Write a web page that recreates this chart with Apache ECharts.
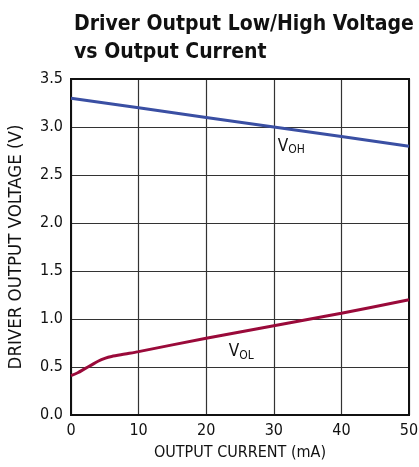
<!DOCTYPE html>
<html><head><meta charset="utf-8">
<script src="https://cdn.jsdelivr.net/npm/echarts@6/dist/echarts.min.js"></script>
<style>html,body{margin:0;padding:0;background:#fff}#c{width:419px;height:467px}</style>
</head><body><div id="c"></div>
<script>
var titleText = 'Driver Output Low/High Voltage\nvs Output Current';
var xName = 'OUTPUT CURRENT (mA)';
var yName = 'DRIVER OUTPUT VOLTAGE (V)';
var vohData = [[0, 3.30], [10, 3.20], [20, 3.10], [30, 3.00], [40, 2.90], [50, 2.80]];
var volData = [[0, 0.41], [1, 0.44], [2, 0.48], [3, 0.52], [4, 0.56], [5, 0.59], [6, 0.61], [8, 0.635], [10, 0.66], [20, 0.80], [30, 0.93], [40, 1.06], [50, 1.20]];
var FONT = '"Liberation Sans Narrow", "DejaVu Sans Condensed", "Roboto", sans-serif';
var chart = echarts.init(document.getElementById('c'));
chart.setOption({
  animation: false,
  title: {text: titleText, left: 69, top: 6, textStyle: {fontFamily: FONT, fontWeight: 'bold', fontSize: 21, lineHeight: 28, color: '#111'}},
  grid: {left: 71, right: 10, top: 79, bottom: 52, containLabel: false, outerBoundsMode: 'none'},
  xAxis: {type: 'value', min: 0, max: 50, interval: 10, name: xName, nameLocation: 'middle', nameGap: 30,
    nameTextStyle: {fontFamily: FONT, fontSize: 16, color: '#111'},
    axisLine: {show: true, lineStyle: {color: '#111', width: 2}}, axisTick: {show: false},
    axisLabel: {fontFamily: FONT, fontSize: 16, color: '#111', margin: 8},
    splitLine: {show: true, lineStyle: {color: '#333', width: 1.2}}},
  yAxis: {type: 'value', min: 0, max: 3.5, interval: 0.5, name: yName, nameLocation: 'middle', nameGap: 45,
    nameTextStyle: {fontFamily: FONT, fontSize: 18.5, color: '#111'},
    axisLine: {show: true, lineStyle: {color: '#111', width: 2}}, axisTick: {show: false},
    axisLabel: {fontFamily: FONT, fontSize: 16, color: '#111', margin: 8, formatter: function (v) { return v.toFixed(1); }},
    splitLine: {show: true, lineStyle: {color: '#333', width: 1.2}}},
  series: [
    {type: 'line', data: vohData, symbol: 'none', lineStyle: {color: '#3a4fa3', width: 3},
      markPoint: {symbol: 'circle', symbolSize: 0, data: [{coord: [32.6, 2.8], value: 'VOH'}],
        label: {show: true, position: 'inside', formatter: '{a|V}{b|OH}',
          rich: {a: {fontFamily: FONT, fontSize: 17, color: '#111'}, b: {fontFamily: FONT, fontSize: 12, color: '#111', padding: [8, 0, 0, 0]}}}}},
    {type: 'line', data: volData, smooth: 0.3, symbol: 'none', lineStyle: {color: '#9a0a3a', width: 3},
      markPoint: {symbol: 'circle', symbolSize: 0, data: [{coord: [25.2, 0.66], value: 'VOL'}],
        label: {show: true, position: 'inside', formatter: '{a|V}{b|OL}',
          rich: {a: {fontFamily: FONT, fontSize: 17, color: '#111'}, b: {fontFamily: FONT, fontSize: 12, color: '#111', padding: [8, 0, 0, 0]}}}}}
  ]
});
var x0 = chart.convertToPixel({xAxisIndex: 0}, 0), x1 = chart.convertToPixel({xAxisIndex: 0}, 50);
var y0 = chart.convertToPixel({yAxisIndex: 0}, 0), y1 = chart.convertToPixel({yAxisIndex: 0}, 3.5);
chart.setOption({graphic: [{type: 'rect', shape: {x: x0, y: y1, width: x1 - x0, height: y0 - y1}, style: {fill: 'none', stroke: '#111', lineWidth: 2}, silent: true, z: 1}]});
</script></body></html>
